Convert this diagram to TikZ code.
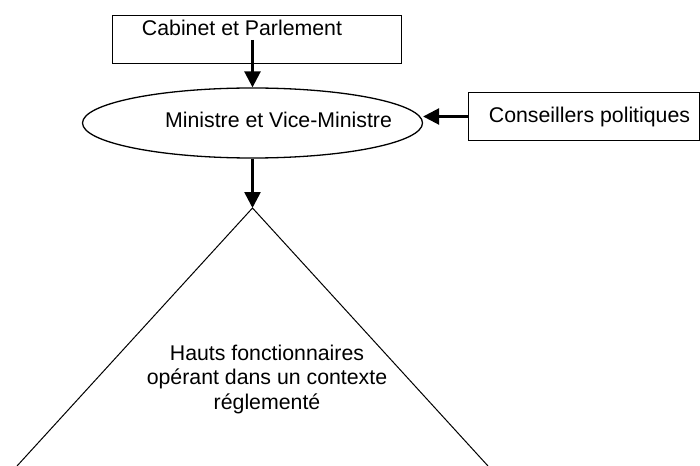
\documentclass[tikz,border=0pt]{standalone}
\usepackage{fontspec}
\setmainfont{Liberation Sans}
\usetikzlibrary{shapes.geometric,arrows.meta}
\begin{document}
\begin{tikzpicture}[x=1pt,y=-1pt,
  box/.style={draw,line width=1pt,inner sep=0pt,anchor=north west},
  txt/.style={font=\fontsize{21.3}{24.5}\selectfont,inner sep=0pt,align=center},
  flow/.style={line width=2.6pt,-{Triangle[length=16pt,width=16pt]}},
  oval/.style={draw,ellipse,line width=1.3pt,minimum width=340pt,minimum height=70pt,inner sep=0pt},
  edge/.style={line width=1pt}]
\useasboundingbox (0,0) rectangle (700,465);
% boxes
\node[box,minimum width=289pt,minimum height=48pt] (cab) at (112,15) {};
\node[txt,anchor=base] (cabt) at (242,36) {Cabinet et Parlement};
\node[box,minimum width=231pt,minimum height=48pt] (cons) at (468,92) {};
\node[txt,anchor=base] (const) at (589.5,122.7) {Conseillers politiques};
% ellipse
\node[oval] (min) at (252.5,123) {};
\node[txt,anchor=base] (mint) at (278.5,127.7) {Ministre et Vice-Ministre};
% pyramid
\coordinate (apex) at (252.5,208);
\coordinate (bl) at (17,466);
\coordinate (br) at (488,466);
\draw[edge] (bl) -- (apex) -- (br);
\node[txt,anchor=north] (pyr) at (267,344.5) {Hauts fonctionnaires\\op\'erant dans un contexte\\r\'eglement\'e};
% arrows
\coordinate (cabstart) at (252.5,40);
\draw[flow] (cabstart) -- (min.north);
\draw[flow] (min.south) -- (apex);
\draw[flow] (cons.west) -- (min.east |- cons.west);
\end{tikzpicture}
\end{document}
